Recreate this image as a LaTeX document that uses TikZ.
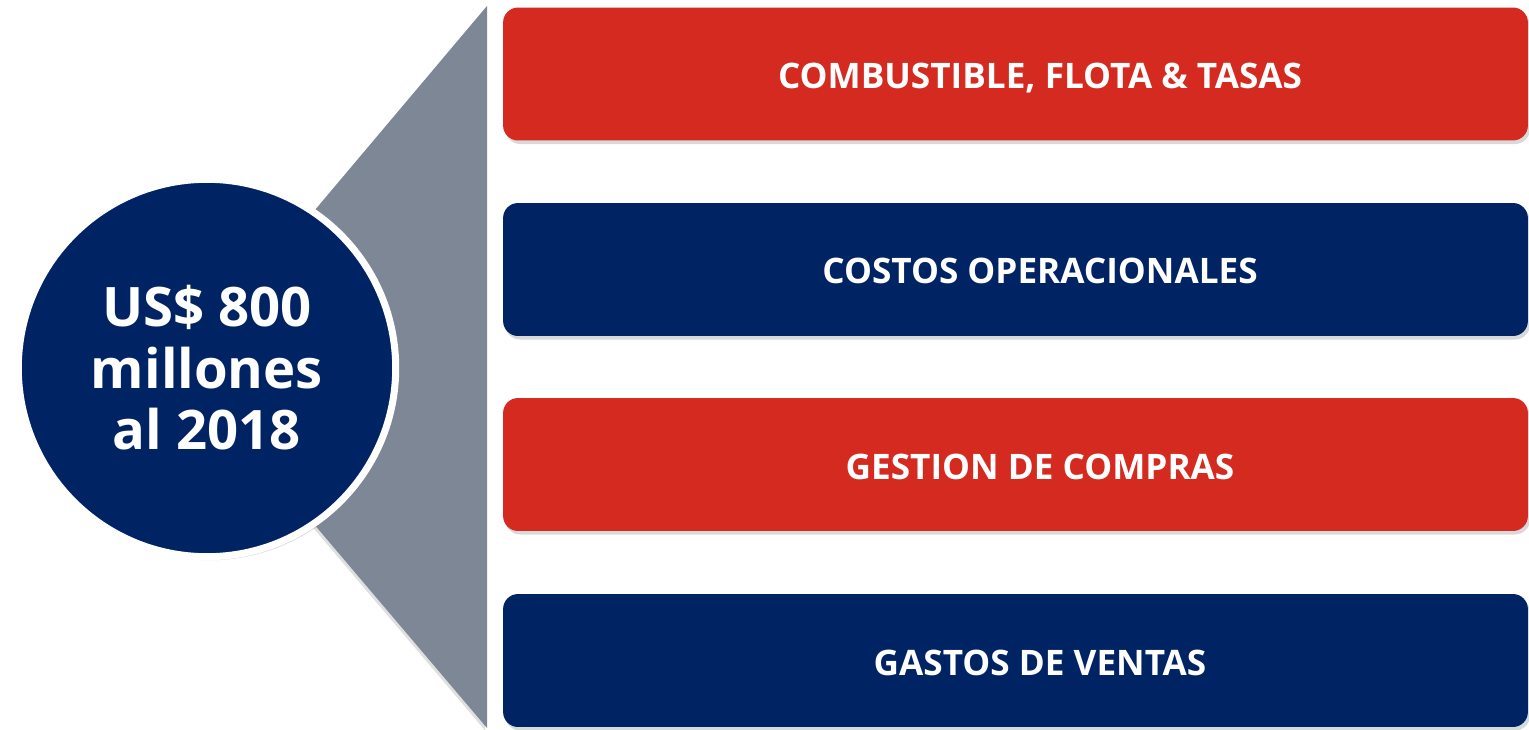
\documentclass[tikz,border=0pt]{standalone}
\usepackage{fontspec}
\setmainfont{Open Sans}
\usepackage{tikz}
\usetikzlibrary{shapes,positioning,shadows}
\definecolor{lmred}{RGB}{212,42,31}
\definecolor{lmnavy}{RGB}{0,36,99}
\definecolor{lmgray}{RGB}{125,135,149}
\tikzstyle{costbox} = [rectangle, rounded corners=0.3cm, minimum width=20.5cm, minimum height=2.66cm, text=white, text height=16.5pt, text depth=0pt, font=\fontsize{20}{24}\selectfont\bfseries, drop shadow={shadow xshift=1.2pt, shadow yshift=-2pt, opacity=0.3}]
\tikzstyle{redbox} = [costbox, fill=lmred]
\tikzstyle{navybox} = [costbox, fill=lmnavy]

\begin{document}
\begin{tikzpicture}[x=0.02cm, y=-0.02cm]
    \useasboundingbox (0,0) rectangle (1529,730);

    % Funnel behind the circle
    \fill[lmgray, drop shadow={shadow xshift=-1pt, shadow yshift=-1.5pt, opacity=0.25}] (487,6) -- (487,728) -- (207,398) -- (207,338) -- cycle;

    % Total savings
    \node[circle, minimum size=7.55cm, fill=lmnavy, draw=white, line width=4pt, text=white, align=center,
          font=\fontsize{31}{35}\selectfont\bfseries,
          drop shadow={shadow xshift=1.5pt, shadow yshift=-2pt, opacity=0.3}] (total) at (207,368)
          {US\$ 800\\millones\\al 2018};

    % Cost lines
    \node[redbox] (fuel) at (1015.5,74) {\hspace*{0.98cm}COMBUSTIBLE, FLOTA \& TASAS};
    \node[navybox] (operations) at (1015.5,269.5) {\hspace*{0.98cm}COSTOS OPERACIONALES};
    \node[redbox] (purchases) at (1015.5,464.5) {\hspace*{0.98cm}GESTION DE COMPRAS};
    \node[navybox] (sales) at (1015.5,660.5) {\hspace*{0.98cm}GASTOS DE VENTAS};
\end{tikzpicture}
\end{document}
